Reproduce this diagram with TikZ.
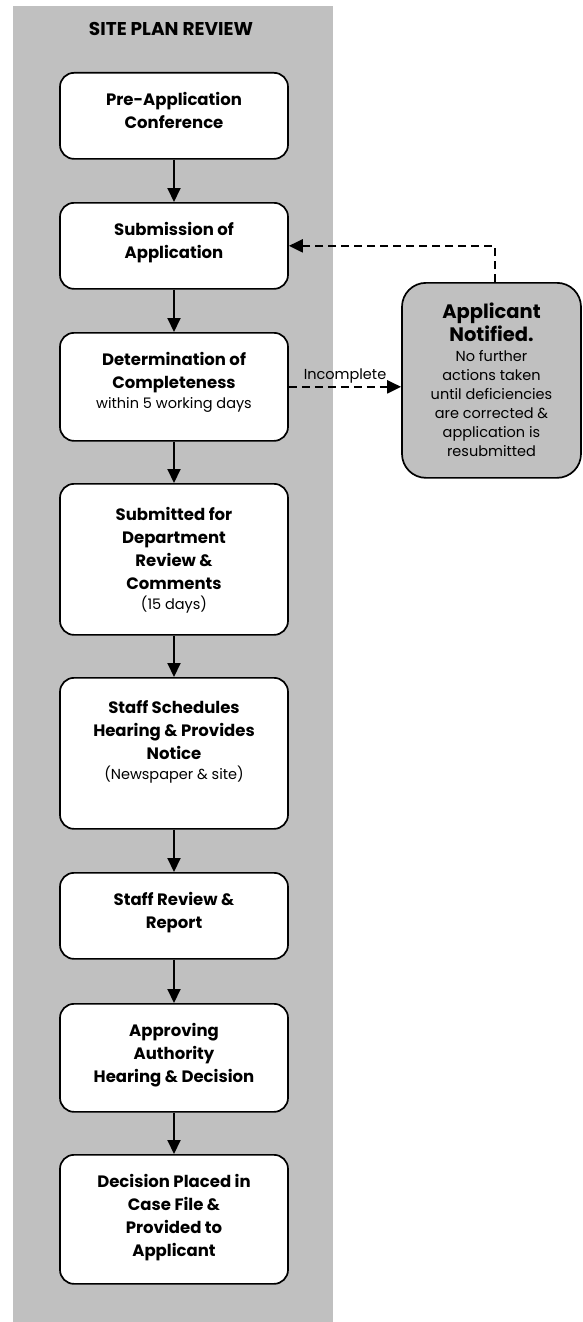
\documentclass[tikz,border=0pt]{standalone}
\usepackage{fontspec}
\setmainfont{Poppins}
\usetikzlibrary{arrows.meta,calc}
\definecolor{band}{RGB}{192,192,192}
\newcommand{\mainf}{\fontsize{16.5}{23}\selectfont\bfseries}
\newcommand{\subf}{\fontsize{14.5}{20}\selectfont\mdseries}
\newcommand{\boxtxt}[3][19pt]{\parbox[c][#2][t]{226pt}{\centering\mainf\vspace*{#1}#3\par}}
\begin{document}
\begin{tikzpicture}[x=1pt,y=-1pt,
  stepbox/.style={draw, line width=1.7pt, rounded corners=14pt, fill=white, inner sep=0pt, minimum width=228pt, anchor=north},
  notebox/.style={draw, line width=1.7pt, rounded corners=24pt, fill=band, inner sep=0pt, minimum width=179pt, anchor=north},
  flow/.style={line width=2pt, -{Triangle[length=14pt,width=13pt]}},
  back/.style={line width=2.2pt, dash pattern=on 8pt off 5pt, -{Triangle[length=14pt,width=13pt]}}]
\useasboundingbox (0,0) rectangle (582,1322);
\fill[band] (13,6) rectangle (333,1322);
\node[font=\fontsize{18.5}{20}\selectfont\bfseries, anchor=base, inner sep=0pt] (title) at (171,36) {SITE PLAN REVIEW};
\node[stepbox] (b1) at (174,72) {\boxtxt{86pt}{Pre-Application\\Conference}};
\node[stepbox] (b2) at (174,202) {\boxtxt{86pt}{Submission of\\Application}};
\node[stepbox] (b3) at (174,332) {\boxtxt{108pt}{Determination of\\Completeness\par{\subf within 5 working days\par}}};
\node[stepbox] (b4) at (174,483) {\boxtxt[23pt]{151pt}{Submitted for\\Department\\Review \&\\Comments\par{\subf (15 days)\par}}};
\node[stepbox] (b5) at (174,677) {\boxtxt[23pt]{151pt}{Staff Schedules\\Hearing \& Provides\\Notice\par{\subf (Newspaper \& site)\par}}};
\node[stepbox] (b6) at (174,872) {\boxtxt{86pt}{Staff Review \&\\Report}};
\node[stepbox] (b7) at (174,1003) {\boxtxt{108pt}{Approving\\Authority\\Hearing \& Decision}};
\node[stepbox] (b8) at (174,1154) {\boxtxt{129pt}{Decision Placed in\\Case File \&\\Provided to\\Applicant}};
\node[notebox] (app) at (491.5,282) {\parbox[c][195pt][t]{177pt}{\centering\vspace*{20pt}{\fontsize{19.5}{23}\selectfont\bfseries Applicant\\Notified.\par}\vspace{1pt}{\fontsize{14.5}{19}\selectfont No further\\actions taken\\until deficiencies\\are corrected \&\\application is\\resubmitted\par}}};
\coordinate (ret) at (495,0);
\draw[flow] (b1) -- (b2);
\draw[flow] (b2) -- (b3);
\draw[flow] (b3) -- (b4);
\draw[flow] (b4) -- (b5);
\draw[flow] (b5) -- (b6);
\draw[flow] (b6) -- (b7);
\draw[flow] (b7) -- (b8);
\draw[back] (b3.east) -- (b3.east -| app.west) node[midway, anchor=base, yshift=7pt, inner sep=0pt, font=\fontsize{14.5}{16}\selectfont] (inc) {Incomplete};
\draw[back] (ret |- app.north) |- (b2.east);
\end{tikzpicture}
\end{document}
